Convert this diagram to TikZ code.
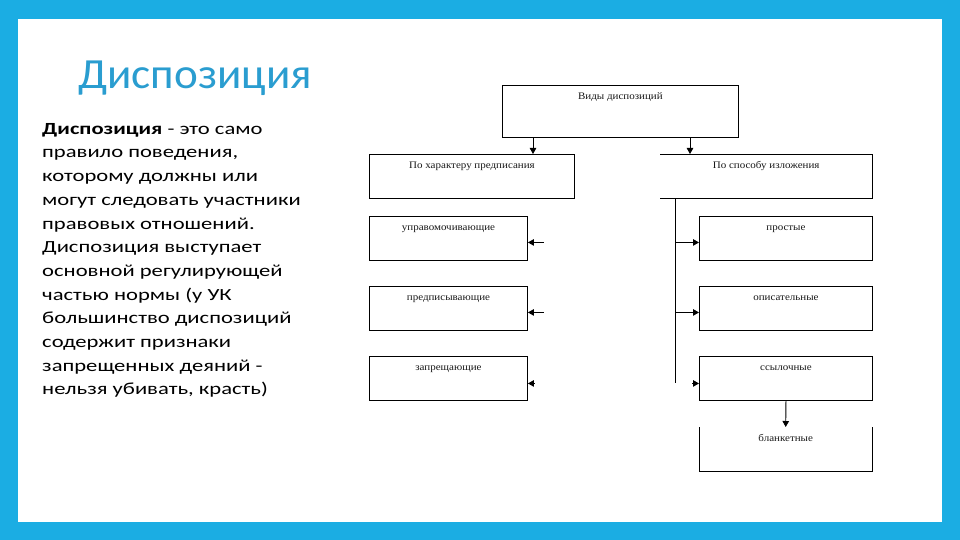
\documentclass[tikz,border=0pt]{standalone}
\usepackage{fontspec}
\setmainfont{Carlito}
\newfontfamily\bodyfont[FakeStretch=1.33]{Carlito}
\newfontfamily\titlefont[FakeStretch=1.05]{Carlito}
\newfontfamily\diafont[FakeStretch=1.1]{Liberation Serif}
\usetikzlibrary{arrows.meta}
\definecolor{frameblue}{RGB}{27,173,227}
\definecolor{titleblue}{RGB}{42,157,208}
\tikzset{
  box/.style={draw=black, line width=0.9pt, anchor=north west, inner sep=0pt},
  nobox/.style={anchor=north west, inner sep=0pt},
  boxtext/.style={label={[label distance=-15pt, inner sep=0pt, text depth=0pt, font=\diafont\fontsize{10}{12}\selectfont, text=black!90]north:#1}},
  arr/.style={line width=0.9pt, -{Triangle[length=6pt,width=6.5pt]}},
  conn/.style={line width=0.9pt},
}
\begin{document}
\begin{tikzpicture}[x=1pt,y=-1pt]
\useasboundingbox (0,0) rectangle (960,540);
\fill[frameblue] (0,0) rectangle (960,540);
\fill[white] (18,19) rectangle (942,522);

\node[anchor=base west, inner sep=0pt, text=titleblue, font=\titlefont\fontsize{43}{50}\selectfont] (title) at (78,89) {Диспозиция};

\node[anchor=north west, inner sep=0pt, align=left, font=\bodyfont\fontsize{17}{23.7}\selectfont] (body) at (42,123) {%
\textbf{Диспозиция} - это само\\
правило поведения,\\
которому должны или\\
могут следовать участники\\
правовых отношений.\\
Диспозиция выступает\\
основной регулирующей\\
частью нормы (у УК\\
большинство диспозиций\\
содержит признаки\\
запрещенных деяний -\\
нельзя убивать, красть)};

% diagram boxes
\node[box, minimum width=236pt, minimum height=52pt, boxtext={Виды диспозиций}] (top) at (502,85) {};
\node[box, minimum width=205pt, minimum height=44pt, boxtext={По характеру предписания}] (lh) at (369,154) {};
\node[nobox, minimum width=212pt, minimum height=44pt, boxtext={По способу изложения}] (rh) at (660,154) {};
\draw[conn] (rh.north west) -- (rh.north east) -- (rh.south east) -- (rh.south west);

\node[box, minimum width=158pt, minimum height=44pt, boxtext={управомочивающие}] (l1) at (369,216) {};
\node[box, minimum width=158pt, minimum height=44pt, boxtext={предписывающие}] (l2) at (369,286) {};
\node[box, minimum width=158pt, minimum height=44pt, boxtext={запрещающие}] (l3) at (369,356) {};

\node[box, minimum width=173pt, minimum height=44pt, boxtext={простые}] (r1) at (699,216) {};
\node[box, minimum width=173pt, minimum height=44pt, boxtext={описательные}] (r2) at (699,286) {};
\node[box, minimum width=173pt, minimum height=44pt, boxtext={ссылочные}] (r3) at (699,356) {};
\node[nobox, minimum width=173pt, minimum height=44pt, boxtext={бланкетные}] (r4) at (699,427) {};
\draw[conn] (r4.north west) -- (r4.south west) -- (r4.south east) -- (r4.north east);

% connectors
\draw[arr] ([xshift=31pt]top.south west) -- ([xshift=31pt]top.south west |- lh.north);
\draw[arr] ([xshift=188pt]top.south west) -- ([xshift=188pt]top.south west |- rh.north);

\coordinate (la1) at ([xshift=16pt,yshift=-4pt]l1.east);
\coordinate (la2) at ([xshift=16pt,yshift=-4pt]l2.east);
\coordinate (la3) at ([xshift=7pt,yshift=-5pt]l3.east);
\draw[arr] (la1) -- (la1 -| l1.east);
\draw[arr] (la2) -- (la2 -| l2.east);
\draw[arr] (la3) -- (la3 -| l3.east);

\coordinate (vt) at ([xshift=15pt]rh.south west);
\coordinate (vb) at (vt |- r3.west);
\draw[conn] (vt) -- ([yshift=-5pt]vb);
\coordinate (ra1) at ([yshift=-4pt]vt |- r1.west);
\coordinate (ra2) at ([yshift=-4pt]vt |- r2.west);
\coordinate (ra3) at ([xshift=-7pt,yshift=-5pt]r3.west);
\draw[arr] (ra1) -- (ra1 -| r1.west);
\draw[arr] (ra2) -- (ra2 -| r2.west);
\draw[arr] (ra3) -- (ra3 -| r3.west);

\draw[arr] (r3.south) -- (r4.north);
\end{tikzpicture}
\end{document}
